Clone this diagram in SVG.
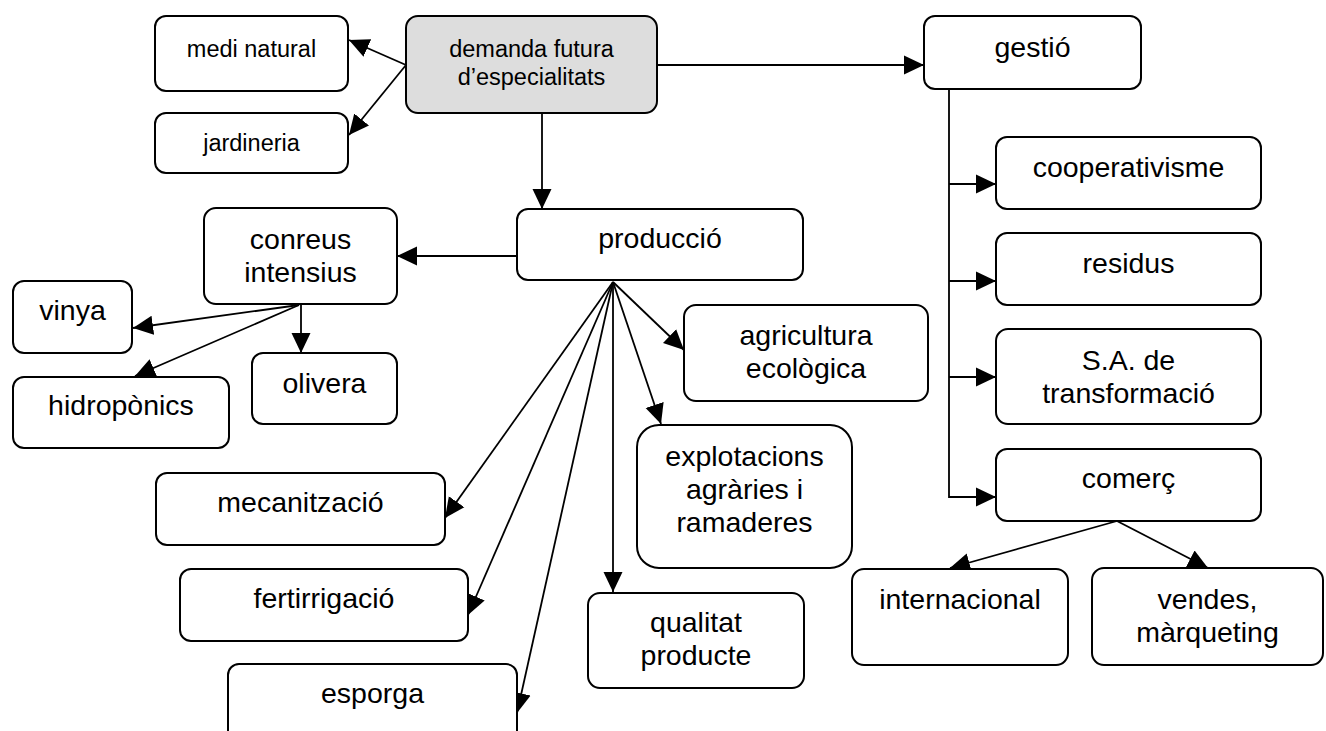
<svg xmlns="http://www.w3.org/2000/svg" width="1326" height="731" viewBox="0 0 1326 731">
<style>
.box{fill:#ffffff;stroke:#000000;stroke-width:2}
.root{fill:#dddddd;stroke:#000000;stroke-width:2}
.t1{font-family:"Liberation Sans",Arial,sans-serif;font-size:23.5px;fill:#000000;text-anchor:middle}
.t2{font-family:"Liberation Sans",Arial,sans-serif;font-size:28.5px;fill:#000000;text-anchor:middle}
.ln{fill:none;stroke:#000000;stroke-width:1.8}
</style>
<defs>
<marker id="ah" markerUnits="userSpaceOnUse" markerWidth="20" markerHeight="20" viewBox="0 0 20 20" refX="20" refY="10" orient="auto">
<path d="M0,0.5 L20,10 L0,19.5 z" fill="#000000"/>
</marker>
</defs>
<rect width="1326" height="731" fill="#ffffff"/>
<g id="connectors">
<line class="ln" x1="406" y1="65" x2="349" y2="40" marker-end="url(#ah)"/>
<line class="ln" x1="406" y1="65" x2="349" y2="135" marker-end="url(#ah)"/>
<line class="ln" x1="657" y1="65" x2="924" y2="65" marker-end="url(#ah)"/>
<line class="ln" x1="542" y1="113" x2="542" y2="209" marker-end="url(#ah)"/>
<line class="ln" x1="517" y1="256" x2="397" y2="256" marker-end="url(#ah)"/>
<line class="ln" x1="613" y1="282" x2="684" y2="350" marker-end="url(#ah)"/>
<line class="ln" x1="613" y1="282" x2="661" y2="424" marker-end="url(#ah)"/>
<line class="ln" x1="613" y1="282" x2="613" y2="592" marker-end="url(#ah)"/>
<line class="ln" x1="613" y1="282" x2="445" y2="518" marker-end="url(#ah)"/>
<line class="ln" x1="613" y1="282" x2="468" y2="615" marker-end="url(#ah)"/>
<line class="ln" x1="613" y1="282" x2="517" y2="713" marker-end="url(#ah)"/>
<line class="ln" x1="299" y1="305" x2="133" y2="328" marker-end="url(#ah)"/>
<line class="ln" x1="299" y1="305" x2="135" y2="376" marker-end="url(#ah)"/>
<line class="ln" x1="301" y1="304" x2="301" y2="353" marker-end="url(#ah)"/>
<polyline class="ln" points="949,89 949,497 996,497" marker-end="url(#ah)"/>
<line class="ln" x1="949" y1="184" x2="996" y2="184" marker-end="url(#ah)"/>
<line class="ln" x1="949" y1="281" x2="996" y2="281" marker-end="url(#ah)"/>
<line class="ln" x1="949" y1="377" x2="996" y2="377" marker-end="url(#ah)"/>
<line class="ln" x1="1117" y1="521" x2="950" y2="568" marker-end="url(#ah)"/>
<line class="ln" x1="1117" y1="521" x2="1208" y2="568" marker-end="url(#ah)"/>
</g>
<g id="n-demanda"><rect class="root" x="406" y="16" width="251" height="97" rx="12"/><text class="t1" x="531.5" y="57">demanda futura</text><text class="t1" x="531.5" y="85">d’especialitats</text></g>
<g id="n-medi"><rect class="box" x="155" y="16" width="193" height="75" rx="11"/><text class="t1" x="251.5" y="57">medi natural</text></g>
<g id="n-jardineria"><rect class="box" x="155" y="113" width="193" height="60" rx="11"/><text class="t1" x="251.5" y="151">jardineria</text></g>
<g id="n-gestio"><rect class="box" x="924" y="16" width="217" height="73" rx="11"/><text class="t2" x="1032.5" y="57">gestió</text></g>
<g id="n-produccio"><rect class="box" x="517" y="209" width="286" height="71" rx="11"/><text class="t2" x="660" y="248">producció</text></g>
<g id="n-conreus"><rect class="box" x="204" y="208" width="193" height="96" rx="12"/><text class="t2" x="300.5" y="249">conreus</text><text class="t2" x="300.5" y="282">intensius</text></g>
<g id="n-vinya"><rect class="box" x="13" y="281" width="119" height="72" rx="11"/><text class="t2" x="72.5" y="320">vinya</text></g>
<g id="n-hidroponics"><rect class="box" x="13" y="377" width="216" height="71" rx="11"/><text class="t2" x="121" y="415">hidropònics</text></g>
<g id="n-olivera"><rect class="box" x="252" y="353" width="145" height="71" rx="11"/><text class="t2" x="324.5" y="393">olivera</text></g>
<g id="n-agricultura"><rect class="box" x="684" y="305" width="244" height="96" rx="12"/><text class="t2" x="806" y="345">agricultura</text><text class="t2" x="806" y="378">ecològica</text></g>
<g id="n-explotacions"><rect class="box" x="637" y="425" width="215" height="143" rx="22"/><text class="t2" x="744.5" y="466">explotacions</text><text class="t2" x="744.5" y="499">agràries i</text><text class="t2" x="744.5" y="532">ramaderes</text></g>
<g id="n-qualitat"><rect class="box" x="588" y="593" width="216" height="95" rx="12"/><text class="t2" x="696" y="632">qualitat</text><text class="t2" x="696" y="665">producte</text></g>
<g id="n-mecanitzacio"><rect class="box" x="156" y="473" width="289" height="72" rx="11"/><text class="t2" x="300.5" y="512">mecanització</text></g>
<g id="n-fertirrigacio"><rect class="box" x="180" y="569" width="288" height="72" rx="11"/><text class="t2" x="324" y="608">fertirrigació</text></g>
<g id="n-esporga"><rect class="box" x="228" y="664" width="289" height="80" rx="11"/><text class="t2" x="372.5" y="703">esporga</text></g>
<g id="n-cooperativisme"><rect class="box" x="996" y="137" width="265" height="72" rx="11"/><text class="t2" x="1128.5" y="177">cooperativisme</text></g>
<g id="n-residus"><rect class="box" x="996" y="233" width="265" height="72" rx="11"/><text class="t2" x="1128.5" y="273">residus</text></g>
<g id="n-sa"><rect class="box" x="996" y="329" width="265" height="95" rx="12"/><text class="t2" x="1128.5" y="370">S.A. de</text><text class="t2" x="1128.5" y="403">transformació</text></g>
<g id="n-comerc"><rect class="box" x="996" y="449" width="265" height="72" rx="11"/><text class="t2" x="1128.5" y="488">comerç</text></g>
<g id="n-internacional"><rect class="box" x="852" y="569" width="216" height="96" rx="12"/><text class="t2" x="960" y="609">internacional</text></g>
<g id="n-vendes"><rect class="box" x="1092" y="568" width="231" height="97" rx="12"/><text class="t2" x="1207.5" y="609">vendes,</text><text class="t2" x="1207.5" y="642">màrqueting</text></g>
</svg>
